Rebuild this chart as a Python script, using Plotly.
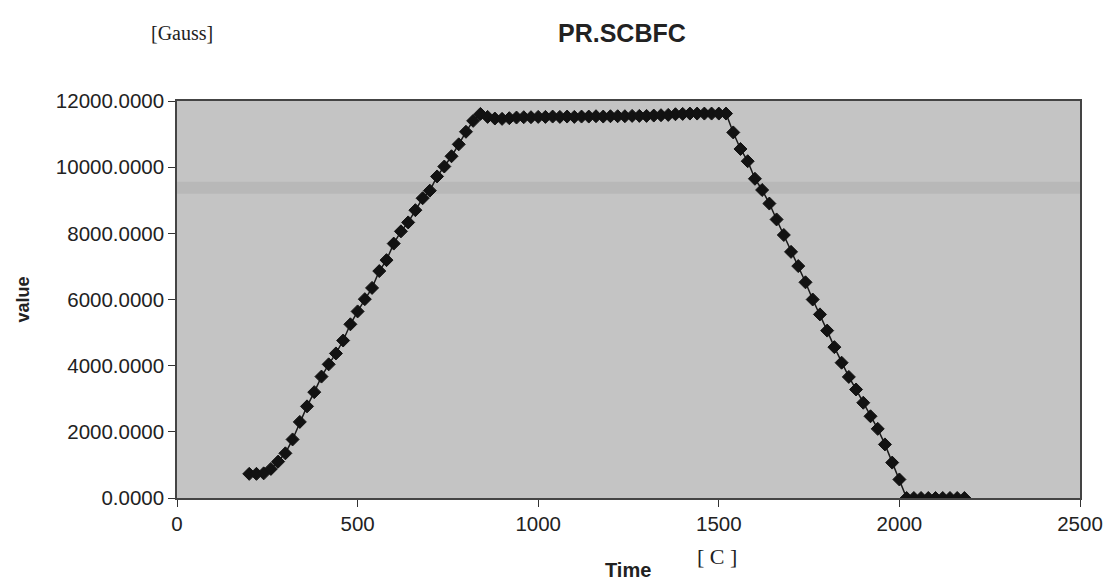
import plotly.graph_objects as go

# ---- data ----
time_c = [200, 220, 240, 260, 280, 300, 320, 340, 360, 380,
          400, 420, 440, 460, 480, 500, 520, 540, 560, 580,
          600, 620, 640, 660, 680, 700, 720, 740, 760, 780,
          800, 820, 840, 860, 880, 900, 920, 940, 960, 980,
          1000, 1020, 1040, 1060, 1080, 1100, 1120, 1140, 1160, 1180,
          1200, 1220, 1240, 1260, 1280, 1300, 1320, 1340, 1360, 1380,
          1400, 1420, 1440, 1460, 1480, 1500, 1520, 1540, 1560, 1580,
          1600, 1620, 1640, 1660, 1680, 1700, 1720, 1740, 1760, 1780,
          1800, 1820, 1840, 1860, 1880, 1900, 1920, 1940, 1960, 1980,
          2000, 2020, 2040, 2060, 2080, 2100, 2120, 2140, 2160, 2180]

value_gauss = [730, 730, 745, 880, 1100, 1350, 1770, 2300, 2770, 3200,
               3670, 4040, 4370, 4760, 5250, 5640, 6010, 6350, 6860, 7190,
               7690, 8060, 8330, 8700, 9060, 9290, 9720, 10020, 10330, 10690,
               11070, 11400, 11610, 11520, 11470, 11460, 11480, 11500, 11510, 11510,
               11520, 11520, 11530, 11520, 11530, 11520, 11530, 11530, 11540, 11530,
               11540, 11540, 11540, 11550, 11550, 11550, 11560, 11570, 11580, 11600,
               11610, 11620, 11620, 11620, 11620, 11620, 11620, 11050, 10550, 10180,
               9650, 9310, 8900, 8420, 7950, 7440, 7010, 6520, 6000, 5550,
               5060, 4560, 4090, 3660, 3280, 2880, 2470, 2090, 1620, 1070,
               560, 0, 0, 0, 0, 0, 0, 0, 0, 0]

x_ticks = [0, 500, 1000, 1500, 2000, 2500]
y_ticks = [0, 2000, 4000, 6000, 8000, 10000, 12000]

SANS = "Liberation Sans, Arial, Helvetica, sans-serif"
SERIF = "Liberation Serif, Times New Roman, serif"

fig = go.Figure()
fig.add_trace(go.Scatter(
    x=time_c, y=value_gauss, mode="lines+markers",
    line=dict(color="#1a1a1a", width=1.5),
    marker=dict(symbol="diamond", size=10, color="#121212",
                line=dict(color="#121212", width=1)),
    showlegend=False, hoverinfo="x+y"))

# scanner band artefact in the reference
fig.add_shape(type="rect", xref="paper", x0=0, x1=1, yref="y", y0=9200, y1=9560,
              fillcolor="rgba(110,110,110,0.14)", line=dict(width=0), layer="below")

fig.update_layout(
    width=1107, height=576,
    margin=dict(l=169, r=33, t=93, b=86),
    paper_bgcolor="white", plot_bgcolor="#c4c4c4",
    font=dict(family=SANS, color="#222222", size=20),
    xaxis=dict(range=[0, 2500], tickvals=x_ticks, ticks="outside", ticklen=7,
               tickcolor="#333", showgrid=False, zeroline=False,
               showline=True, linecolor="#444", linewidth=1.5, mirror=True,
               tickfont=dict(size=20.5, family=SANS, color="#222")),
    yaxis=dict(range=[0, 12000], tickvals=y_ticks, tickformat=".4f",
               ticks="outside", ticklen=7, tickcolor="#333",
               showgrid=False, zeroline=False,
               showline=True, linecolor="#444", linewidth=1.5, mirror=True,
               tickfont=dict(size=20.5, family=SANS, color="#222")),
    annotations=[
        dict(text="<b>PR.SCBFC</b>", xref="paper", yref="paper", x=0.493, y=1,
             xanchor="center", yanchor="middle", yshift=68, showarrow=False,
             font=dict(size=25, family=SANS, color="#222")),
        dict(text="[Gauss]", xref="paper", yref="paper", x=0.0055, y=1,
             xanchor="center", yanchor="middle", yshift=68, showarrow=False,
             font=dict(size=20, family=SERIF, color="#222")),
        dict(text="<b>value</b>", xref="paper", yref="paper", x=0, xshift=-155, y=0.5,
             xanchor="center", yanchor="middle",
             textangle=-90, showarrow=False, font=dict(size=18, family=SANS, color="#222")),
        dict(text="<b>Time</b>", xref="paper", yref="paper", x=0.4995, y=0,
             xanchor="center", yanchor="middle", yshift=-72,
             showarrow=False, font=dict(size=20, family=SANS, color="#222")),
        dict(text="[ C ]", xref="paper", yref="paper", x=0.598, y=0,
             xanchor="center", yanchor="middle", yshift=-58,
             showarrow=False, font=dict(size=22, family=SERIF, color="#222")),
    ],
)

fig.write_html("out.html")
